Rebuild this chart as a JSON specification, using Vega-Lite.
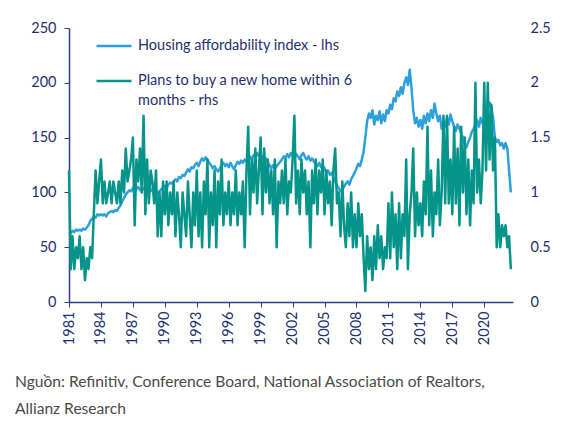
{
"$schema": "https://vega.github.io/schema/vega-lite/v6.json",
"width": 444, "height": 274,
"autosize": {"type": "none"},
"padding": {"left": 69, "top": 28, "right": 62, "bottom": 126},
"background": "white",
"config": {"view": {"stroke": null}, "font": "Lato"},
"title": {"text": ["Nguồn: Refinitiv, Conference Board, National Association of Realtors,", "Allianz Research"], "orient": "bottom", "anchor": "start", "frame": "group", "dx": -54, "offset": 30, "fontSize": 15.6, "fontWeight": "normal", "color": "#4a4a4a", "lineHeight": 27.5, "font": "Lato"},
"data": {"values": [
{"t":1981.0,"h":64,"p":1.2},{"t":1981.17,"h":63,"p":0.3},{"t":1981.33,"h":65,"p":0.6},{"t":1981.5,"h":64,"p":0.3},{"t":1981.67,"h":66,"p":0.5},{"t":1981.83,"h":65,"p":0.4},
{"t":1982.0,"h":66,"p":0.6},{"t":1982.17,"h":65,"p":0.3},{"t":1982.33,"h":67,"p":0.5},{"t":1982.5,"h":66,"p":0.2},{"t":1982.67,"h":68,"p":0.4},{"t":1982.83,"h":70,"p":0.3},
{"t":1983.0,"h":74,"p":0.5},{"t":1983.17,"h":76,"p":0.4},{"t":1983.33,"h":78,"p":0.8},{"t":1983.5,"h":77,"p":1.2},{"t":1983.67,"h":80,"p":0.9},{"t":1983.83,"h":79,"p":1.1},
{"t":1984.0,"h":80,"p":1.3},{"t":1984.17,"h":79,"p":0.9},{"t":1984.33,"h":80,"p":1.1},{"t":1984.5,"h":78,"p":0.9},{"t":1984.67,"h":81,"p":1.0},{"t":1984.83,"h":82,"p":1.1},
{"t":1985.0,"h":83,"p":0.9},{"t":1985.17,"h":82,"p":1.1},{"t":1985.33,"h":84,"p":1.0},{"t":1985.5,"h":83,"p":0.9},{"t":1985.67,"h":86,"p":1.1},{"t":1985.83,"h":88,"p":0.9},
{"t":1986.0,"h":92,"p":1.2},{"t":1986.17,"h":95,"p":1.0},{"t":1986.33,"h":98,"p":1.4},{"t":1986.5,"h":100,"p":1.1},{"t":1986.67,"h":102,"p":1.2},{"t":1986.83,"h":101,"p":1.3},
{"t":1987.0,"h":104,"p":1.5},{"t":1987.17,"h":106,"p":0.7},{"t":1987.33,"h":103,"p":1.3},{"t":1987.5,"h":105,"p":1.1},{"t":1987.67,"h":102,"p":1.4},{"t":1987.83,"h":104,"p":1.0},
{"t":1988.0,"h":103,"p":1.7},{"t":1988.17,"h":105,"p":0.8},{"t":1988.33,"h":102,"p":1.3},{"t":1988.5,"h":104,"p":0.9},{"t":1988.67,"h":101,"p":1.2},{"t":1988.83,"h":103,"p":1.1},
{"t":1989.0,"h":100,"p":0.9},{"t":1989.17,"h":102,"p":1.2},{"t":1989.33,"h":99,"p":0.6},{"t":1989.5,"h":101,"p":1.0},{"t":1989.67,"h":103,"p":0.6},{"t":1989.83,"h":104,"p":1.1},
{"t":1990.0,"h":106,"p":0.8},{"t":1990.17,"h":104,"p":1.1},{"t":1990.33,"h":107,"p":0.7},{"t":1990.5,"h":109,"p":1.0},{"t":1990.67,"h":108,"p":0.8},{"t":1990.83,"h":110,"p":1.1},
{"t":1991.0,"h":112,"p":0.6},{"t":1991.17,"h":110,"p":1.0},{"t":1991.33,"h":114,"p":0.8},{"t":1991.5,"h":113,"p":0.5},{"t":1991.67,"h":116,"p":1.0},{"t":1991.83,"h":115,"p":0.8},
{"t":1992.0,"h":118,"p":0.6},{"t":1992.17,"h":121,"p":1.1},{"t":1992.33,"h":119,"p":0.8},{"t":1992.5,"h":123,"p":0.5},{"t":1992.67,"h":122,"p":1.0},{"t":1992.83,"h":125,"p":0.7},
{"t":1993.0,"h":127,"p":1.2},{"t":1993.17,"h":124,"p":0.6},{"t":1993.33,"h":128,"p":1.0},{"t":1993.5,"h":131,"p":0.5},{"t":1993.67,"h":129,"p":1.1},{"t":1993.83,"h":132,"p":0.8},
{"t":1994.0,"h":130,"p":1.3},{"t":1994.17,"h":127,"p":0.5},{"t":1994.33,"h":125,"p":1.0},{"t":1994.5,"h":122,"p":0.7},{"t":1994.67,"h":124,"p":1.2},{"t":1994.83,"h":121,"p":0.5},
{"t":1995.0,"h":119,"p":1.1},{"t":1995.17,"h":122,"p":0.8},{"t":1995.33,"h":125,"p":1.3},{"t":1995.5,"h":127,"p":0.7},{"t":1995.67,"h":124,"p":1.0},{"t":1995.83,"h":126,"p":0.8},
{"t":1996.0,"h":123,"p":1.1},{"t":1996.17,"h":127,"p":0.7},{"t":1996.33,"h":124,"p":1.0},{"t":1996.5,"h":121,"p":0.8},{"t":1996.67,"h":125,"p":1.2},{"t":1996.83,"h":128,"p":0.7},
{"t":1997.0,"h":126,"p":1.0},{"t":1997.17,"h":129,"p":0.8},{"t":1997.33,"h":127,"p":1.1},{"t":1997.5,"h":130,"p":0.5},{"t":1997.67,"h":128,"p":1.2},{"t":1997.83,"h":131,"p":1.6},
{"t":1998.0,"h":133,"p":0.8},{"t":1998.17,"h":130,"p":1.3},{"t":1998.33,"h":134,"p":1.0},{"t":1998.5,"h":132,"p":1.4},{"t":1998.67,"h":136,"p":0.9},{"t":1998.83,"h":133,"p":1.2},
{"t":1999.0,"h":135,"p":1.5},{"t":1999.17,"h":132,"p":0.8},{"t":1999.33,"h":129,"p":1.4},{"t":1999.5,"h":131,"p":1.0},{"t":1999.67,"h":127,"p":1.3},{"t":1999.83,"h":125,"p":0.9},
{"t":2000.0,"h":122,"p":1.2},{"t":2000.17,"h":125,"p":0.8},{"t":2000.33,"h":121,"p":1.3},{"t":2000.5,"h":124,"p":0.5},{"t":2000.67,"h":126,"p":1.1},{"t":2000.83,"h":128,"p":0.9},
{"t":2001.0,"h":130,"p":1.2},{"t":2001.17,"h":133,"p":0.9},{"t":2001.33,"h":131,"p":1.3},{"t":2001.5,"h":135,"p":0.8},{"t":2001.67,"h":132,"p":1.1},{"t":2001.83,"h":136,"p":1.0},
{"t":2002.0,"h":134,"p":1.3},{"t":2002.17,"h":131,"p":1.7},{"t":2002.33,"h":135,"p":0.9},{"t":2002.5,"h":133,"p":1.2},{"t":2002.67,"h":130,"p":0.8},{"t":2002.83,"h":134,"p":1.3},
{"t":2003.0,"h":136,"p":1.0},{"t":2003.17,"h":132,"p":1.2},{"t":2003.33,"h":130,"p":0.8},{"t":2003.5,"h":133,"p":1.1},{"t":2003.67,"h":129,"p":0.5},{"t":2003.83,"h":131,"p":1.2},
{"t":2004.0,"h":128,"p":0.9},{"t":2004.17,"h":126,"p":1.3},{"t":2004.33,"h":124,"p":0.8},{"t":2004.5,"h":127,"p":1.2},{"t":2004.67,"h":123,"p":1.0},{"t":2004.83,"h":125,"p":1.3},
{"t":2005.0,"h":122,"p":0.8},{"t":2005.17,"h":118,"p":1.2},{"t":2005.33,"h":120,"p":0.9},{"t":2005.5,"h":116,"p":1.1},{"t":2005.67,"h":118,"p":0.7},{"t":2005.83,"h":114,"p":1.2},
{"t":2006.0,"h":110,"p":1.4},{"t":2006.17,"h":106,"p":0.9},{"t":2006.33,"h":104,"p":1.0},{"t":2006.5,"h":101,"p":0.6},{"t":2006.67,"h":103,"p":1.1},{"t":2006.83,"h":105,"p":0.7},
{"t":2007.0,"h":108,"p":0.5},{"t":2007.17,"h":110,"p":0.9},{"t":2007.33,"h":107,"p":0.6},{"t":2007.5,"h":112,"p":1.0},{"t":2007.67,"h":115,"p":0.5},{"t":2007.83,"h":118,"p":0.8},
{"t":2008.0,"h":122,"p":0.5},{"t":2008.17,"h":126,"p":0.9},{"t":2008.33,"h":124,"p":0.6},{"t":2008.5,"h":130,"p":0.8},{"t":2008.67,"h":137,"p":0.4},{"t":2008.83,"h":150,"p":0.1},
{"t":2009.0,"h":165,"p":0.6},{"t":2009.17,"h":172,"p":0.3},{"t":2009.33,"h":168,"p":0.5},{"t":2009.5,"h":175,"p":0.2},{"t":2009.67,"h":162,"p":0.6},{"t":2009.83,"h":170,"p":0.3},
{"t":2010.0,"h":166,"p":0.7},{"t":2010.17,"h":174,"p":0.4},{"t":2010.33,"h":163,"p":0.6},{"t":2010.5,"h":171,"p":0.3},{"t":2010.67,"h":165,"p":0.5},{"t":2010.83,"h":175,"p":0.4},
{"t":2011.0,"h":172,"p":0.9},{"t":2011.17,"h":180,"p":0.4},{"t":2011.33,"h":176,"p":1.0},{"t":2011.5,"h":186,"p":0.5},{"t":2011.67,"h":183,"p":0.8},{"t":2011.83,"h":192,"p":0.3},
{"t":2012.0,"h":188,"p":0.9},{"t":2012.17,"h":196,"p":0.4},{"t":2012.33,"h":190,"p":0.8},{"t":2012.5,"h":200,"p":0.6},{"t":2012.67,"h":205,"p":1.3},{"t":2012.83,"h":198,"p":0.3},
{"t":2013.0,"h":212,"p":0.8},{"t":2013.17,"h":195,"p":1.0},{"t":2013.33,"h":175,"p":1.4},{"t":2013.5,"h":163,"p":0.6},{"t":2013.67,"h":168,"p":1.0},{"t":2013.83,"h":160,"p":0.7},
{"t":2014.0,"h":166,"p":0.9},{"t":2014.17,"h":158,"p":0.6},{"t":2014.33,"h":170,"p":1.1},{"t":2014.5,"h":163,"p":0.8},{"t":2014.67,"h":172,"p":1.6},{"t":2014.83,"h":165,"p":0.7},
{"t":2015.0,"h":175,"p":1.2},{"t":2015.17,"h":168,"p":0.6},{"t":2015.33,"h":181,"p":1.0},{"t":2015.5,"h":172,"p":0.8},{"t":2015.67,"h":165,"p":1.3},{"t":2015.83,"h":170,"p":0.7},
{"t":2016.0,"h":158,"p":1.0},{"t":2016.17,"h":165,"p":1.7},{"t":2016.33,"h":160,"p":0.9},{"t":2016.5,"h":168,"p":1.7},{"t":2016.67,"h":162,"p":0.9},{"t":2016.83,"h":171,"p":1.3},
{"t":2017.0,"h":165,"p":0.8},{"t":2017.17,"h":160,"p":1.6},{"t":2017.33,"h":156,"p":0.9},{"t":2017.5,"h":162,"p":1.4},{"t":2017.67,"h":158,"p":0.7},{"t":2017.83,"h":154,"p":1.6},
{"t":2018.0,"h":150,"p":1.0},{"t":2018.17,"h":143,"p":1.5},{"t":2018.33,"h":141,"p":0.8},{"t":2018.5,"h":146,"p":1.3},{"t":2018.67,"h":150,"p":0.7},{"t":2018.83,"h":155,"p":1.2},
{"t":2019.0,"h":158,"p":0.9},{"t":2019.17,"h":162,"p":2.0},{"t":2019.33,"h":166,"p":1.0},{"t":2019.5,"h":160,"p":1.3},{"t":2019.67,"h":168,"p":0.9},{"t":2019.83,"h":163,"p":1.2},
{"t":2020.0,"h":166,"p":2.0},{"t":2020.17,"h":170,"p":1.2},{"t":2020.33,"h":175,"p":2.0},{"t":2020.5,"h":182,"p":1.3},{"t":2020.67,"h":178,"p":1.8},{"t":2020.83,"h":168,"p":1.2},
{"t":2021.0,"h":150,"p":1.5},{"t":2021.17,"h":146,"p":0.5},{"t":2021.33,"h":148,"p":0.8},{"t":2021.5,"h":143,"p":0.5},{"t":2021.67,"h":145,"p":0.7},{"t":2021.83,"h":140,"p":0.6},
{"t":2022.0,"h":145,"p":0.7},{"t":2022.17,"h":140,"p":0.5},{"t":2022.33,"h":120,"p":0.6},{"t":2022.5,"h":100,"p":0.3}
]},
"encoding": {
  "x": {"field": "t", "type": "quantitative", "scale": {"domain": [1981, 2022.7], "nice": false, "zero": false},
        "axis": {"title": null, "values": [1981,1984,1987,1990,1993,1996,1999,2002,2005,2008,2011,2014,2017,2020], "format": "d", "labelAngle": 270, "labelAlign": "right", "labelBaseline": "middle", "labelFontSize": 14.5, "labelColor": "#1f2f6e", "labelPadding": 4, "tickSize": 5, "tickColor": "#2b3f8c", "domainColor": "#2b3f8c", "domainWidth": 1.5, "grid": false, "labelFlush": false, "labelOverlap": false}}
},
"layer": [
  {"mark": {"type": "line", "strokeWidth": 2.5, "strokeJoin": "round"},
   "encoding": {
     "y": {"field": "h", "type": "quantitative", "scale": {"domain": [0, 250], "nice": false},
           "axis": {"title": null, "values": [0,50,100,150,200,250], "labelFontSize": 14.5, "labelColor": "#1f2f6e", "labelPadding": 8, "tickSize": 5, "tickColor": "#2b3f8c", "domainColor": "#2b3f8c", "domainWidth": 1.5, "grid": false}},
     "color": {"datum": "Housing affordability index - lhs", "type": "nominal",
       "scale": {"domain": ["Housing affordability index - lhs", "Plans to buy a new home within 6 months - rhs"], "range": ["#2ba0db", "#05948a"]},
       "legend": {"title": null, "orient": "none", "legendX": 26, "legendY": -1, "direction": "vertical", "symbolType": "stroke", "symbolSize": 1225, "symbolStrokeWidth": 2.5, "labelFontSize": 14.5, "labelColor": "#1f2f6e", "labelOffset": 5, "labelLimit": 400, "rowPadding": 9, "padding": 0,
         "labelExpr": "datum.label == 'Plans to buy a new home within 6 months - rhs' ? ['Plans to buy a new home within 6', 'months - rhs'] : datum.label",
         "encode": {"labels": {"update": {"lineHeight": {"value": 20}}}}}}
   }},
  {"mark": {"type": "line", "strokeWidth": 2.5, "strokeJoin": "round"},
   "encoding": {
     "y": {"field": "p", "type": "quantitative", "scale": {"domain": [0, 2.5], "nice": false},
           "axis": {"title": null, "orient": "right", "values": [0,0.5,1,1.5,2,2.5], "format": "~g", "labelFontSize": 14.5, "labelColor": "#1f2f6e", "labelPadding": 17, "ticks": false, "domain": false, "grid": false}},
     "color": {"datum": "Plans to buy a new home within 6 months - rhs", "type": "nominal"}
   }}
],
"resolve": {"scale": {"y": "independent"}}
}
